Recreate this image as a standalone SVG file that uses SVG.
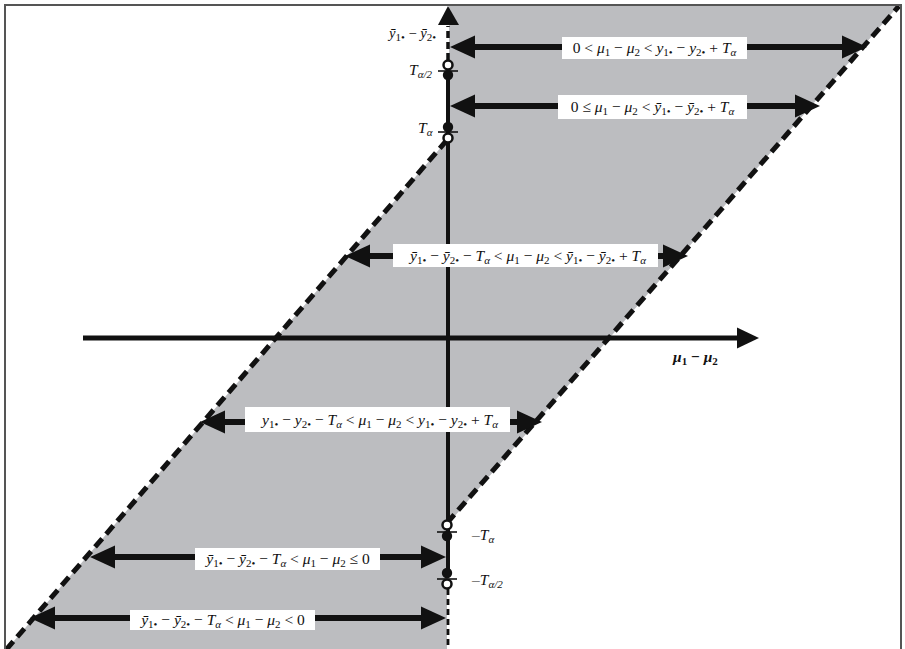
<svg xmlns="http://www.w3.org/2000/svg" width="905" height="649" viewBox="0 0 905 649">
<style>
text{font-family:"Liberation Serif","Times New Roman",serif;font-size:15.5px;fill:#111}
.i{font-style:italic}
.s{font-size:11px}
.b{font-weight:bold}
.box{fill:#fff}
.arrow{stroke:#111;stroke-width:6;fill:none}
.diag{stroke:#111;stroke-width:5;stroke-dasharray:11 6;fill:none}
.tick{stroke:#111;stroke-width:1.6}
.open{fill:#fff;stroke:#111;stroke-width:2.5}
.fill{fill:#111}
</style>
<defs>
<marker id="ah" markerUnits="userSpaceOnUse" viewBox="0 -12 26 24" markerWidth="26" markerHeight="24" refX="5" refY="0" orient="auto-start-reverse">
<path d="M0,-11.5 L25,0 L0,11.5 Z" fill="#111"/>
</marker>
<marker id="ax" markerUnits="userSpaceOnUse" viewBox="0 -11 24 22" markerWidth="24" markerHeight="22" refX="4" refY="0" orient="auto">
<path d="M0,-10.5 L22,0 L0,10.5 Z" fill="#111"/>
</marker>
</defs>
<rect x="0" y="0" width="905" height="649" fill="#fff"/>
<g id="region">
<path d="M449,5 L899,5 L447,525 L447,649 L7,649 L449,138 Z" fill="#bcbdc0"/>
<line class="diag" x1="447" y1="523" x2="899" y2="6"/>
<line class="diag" x1="447" y1="140" x2="5" y2="651"/>
</g>
<g id="frame">
<rect x="5" y="5" width="896" height="660" fill="none" stroke="#555" stroke-width="2"/>
</g>
<g id="axes">
<line x1="83" y1="338" x2="741" y2="338" stroke="#111" stroke-width="5" marker-end="url(#ax)"/>
<line x1="448" y1="60" x2="448" y2="26" stroke="#111" stroke-width="3.5" stroke-dasharray="7 4"/>
<path d="M438,25 L448,6 L459,25 Z" fill="#111"/>
<line x1="448" y1="74" x2="448" y2="573" stroke="#111" stroke-width="4"/>
<line x1="448" y1="589" x2="448" y2="649" stroke="#111" stroke-width="2.8" stroke-dasharray="6 4"/>
<line class="tick" x1="438" y1="71" x2="458" y2="71"/>
<line class="tick" x1="438" y1="132" x2="458" y2="132"/>
<line class="tick" x1="437" y1="532" x2="457" y2="532"/>
<line class="tick" x1="437" y1="579" x2="457" y2="579"/>
<circle class="open" cx="448" cy="65" r="4.5"/>
<circle class="fill" cx="448" cy="75" r="5.2"/>
<circle class="fill" cx="448" cy="127" r="5.2"/>
<circle class="open" cx="448" cy="138" r="4.5"/>
<circle class="open" cx="447" cy="525" r="4.5"/>
<circle class="fill" cx="447" cy="536" r="5.2"/>
<circle class="fill" cx="447" cy="573" r="5.2"/>
<circle class="open" cx="447" cy="584" r="4.5"/>
</g>
<g id="axis-labels">
<text x="436" y="38" text-anchor="end" style="font-size:14.5px"><tspan class="i">ȳ</tspan><tspan class="s" dy="3">1•</tspan><tspan dy="-3"> − </tspan><tspan class="i">ȳ</tspan><tspan class="s" dy="3">2•</tspan></text>
<text x="409" y="75"><tspan class="i">T</tspan><tspan class="s i" dy="3">α/2</tspan></text>
<text x="418" y="133"><tspan class="i">T</tspan><tspan class="s i" dy="3">α</tspan></text>
<text x="472" y="540">–<tspan class="i">T</tspan><tspan class="s i" dy="3">α</tspan></text>
<text x="472" y="585">–<tspan class="i">T</tspan><tspan class="s i" dy="3">α/2</tspan></text>
<text x="673" y="362" class="b"><tspan class="i">μ</tspan><tspan class="s" dy="3">1</tspan><tspan dy="-3"> − </tspan><tspan class="i">μ</tspan><tspan class="s" dy="3">2</tspan></text>
</g>
<g id="connectors">
<line class="arrow" x1="470" y1="47" x2="847" y2="47" marker-start="url(#ah)" marker-end="url(#ah)"/>
<line class="arrow" x1="470" y1="106" x2="800" y2="106" marker-start="url(#ah)" marker-end="url(#ah)"/>
<line class="arrow" x1="365" y1="256" x2="668" y2="256" marker-start="url(#ah)" marker-end="url(#ah)"/>
<line class="arrow" x1="220" y1="422" x2="522" y2="422" marker-start="url(#ah)" marker-end="url(#ah)"/>
<line class="arrow" x1="110" y1="557" x2="426" y2="557" marker-start="url(#ah)" marker-end="url(#ah)"/>
<line class="arrow" x1="50" y1="618" x2="426" y2="618" marker-start="url(#ah)" marker-end="url(#ah)"/>
</g>
<g id="label1">
<rect class="box" x="562" y="37" width="185" height="22"/>
<text x="654.5" y="53" text-anchor="middle">0 &lt; <tspan class="i">μ</tspan><tspan class="s" dy="3">1</tspan><tspan dy="-3"> − </tspan><tspan class="i">μ</tspan><tspan class="s" dy="3">2</tspan><tspan dy="-3"> &lt; </tspan><tspan class="i">y</tspan><tspan class="s" dy="3">1•</tspan><tspan dy="-3"> − </tspan><tspan class="i">y</tspan><tspan class="s" dy="3">2•</tspan><tspan dy="-3"> + </tspan><tspan class="i">T</tspan><tspan class="s i" dy="3">α</tspan></text>
</g>
<g id="label2">
<rect class="box" x="558" y="95" width="189" height="24"/>
<text x="652.5" y="112" text-anchor="middle">0 ≤ <tspan class="i">μ</tspan><tspan class="s" dy="3">1</tspan><tspan dy="-3"> − </tspan><tspan class="i">μ</tspan><tspan class="s" dy="3">2</tspan><tspan dy="-3"> &lt; </tspan><tspan class="i">ȳ</tspan><tspan class="s" dy="3">1•</tspan><tspan dy="-3"> − </tspan><tspan class="i">ȳ</tspan><tspan class="s" dy="3">2•</tspan><tspan dy="-3"> + </tspan><tspan class="i">T</tspan><tspan class="s i" dy="3">α</tspan></text>
</g>
<g id="label3">
<rect class="box" x="393" y="244" width="265" height="23"/>
<text x="528" y="261" text-anchor="middle"><tspan class="i">ȳ</tspan><tspan class="s" dy="3">1•</tspan><tspan dy="-3"> − </tspan><tspan class="i">ȳ</tspan><tspan class="s" dy="3">2•</tspan><tspan dy="-3"> − </tspan><tspan class="i">T</tspan><tspan class="s i" dy="3">α</tspan><tspan dy="-3"> &lt; </tspan><tspan class="i">μ</tspan><tspan class="s" dy="3">1</tspan><tspan dy="-3"> − </tspan><tspan class="i">μ</tspan><tspan class="s" dy="3">2</tspan><tspan dy="-3"> &lt; </tspan><tspan class="i">ȳ</tspan><tspan class="s" dy="3">1•</tspan><tspan dy="-3"> − </tspan><tspan class="i">ȳ</tspan><tspan class="s" dy="3">2•</tspan><tspan dy="-3"> + </tspan><tspan class="i">T</tspan><tspan class="s i" dy="3">α</tspan></text>
</g>
<g id="label4">
<rect class="box" x="245" y="407" width="265" height="25"/>
<text x="380" y="425" text-anchor="middle"><tspan class="i">y</tspan><tspan class="s" dy="3">1•</tspan><tspan dy="-3"> − </tspan><tspan class="i">y</tspan><tspan class="s" dy="3">2•</tspan><tspan dy="-3"> − </tspan><tspan class="i">T</tspan><tspan class="s i" dy="3">α</tspan><tspan dy="-3"> &lt; </tspan><tspan class="i">μ</tspan><tspan class="s" dy="3">1</tspan><tspan dy="-3"> − </tspan><tspan class="i">μ</tspan><tspan class="s" dy="3">2</tspan><tspan dy="-3"> &lt; </tspan><tspan class="i">y</tspan><tspan class="s" dy="3">1•</tspan><tspan dy="-3"> − </tspan><tspan class="i">y</tspan><tspan class="s" dy="3">2•</tspan><tspan dy="-3"> + </tspan><tspan class="i">T</tspan><tspan class="s i" dy="3">α</tspan></text>
</g>
<g id="label5">
<rect class="box" x="195" y="548" width="185" height="22"/>
<text x="288" y="564" text-anchor="middle"><tspan class="i">ȳ</tspan><tspan class="s" dy="3">1•</tspan><tspan dy="-3"> − </tspan><tspan class="i">ȳ</tspan><tspan class="s" dy="3">2•</tspan><tspan dy="-3"> − </tspan><tspan class="i">T</tspan><tspan class="s i" dy="3">α</tspan><tspan dy="-3"> &lt; </tspan><tspan class="i">μ</tspan><tspan class="s" dy="3">1</tspan><tspan dy="-3"> − </tspan><tspan class="i">μ</tspan><tspan class="s" dy="3">2</tspan><tspan dy="-3"> ≤ 0</tspan></text>
</g>
<g id="label6">
<rect class="box" x="130" y="610" width="185" height="20"/>
<text x="223" y="625" text-anchor="middle"><tspan class="i">ȳ</tspan><tspan class="s" dy="3">1•</tspan><tspan dy="-3"> − </tspan><tspan class="i">ȳ</tspan><tspan class="s" dy="3">2•</tspan><tspan dy="-3"> − </tspan><tspan class="i">T</tspan><tspan class="s i" dy="3">α</tspan><tspan dy="-3"> &lt; </tspan><tspan class="i">μ</tspan><tspan class="s" dy="3">1</tspan><tspan dy="-3"> − </tspan><tspan class="i">μ</tspan><tspan class="s" dy="3">2</tspan><tspan dy="-3"> &lt; 0</tspan></text>
</g>
</svg>
